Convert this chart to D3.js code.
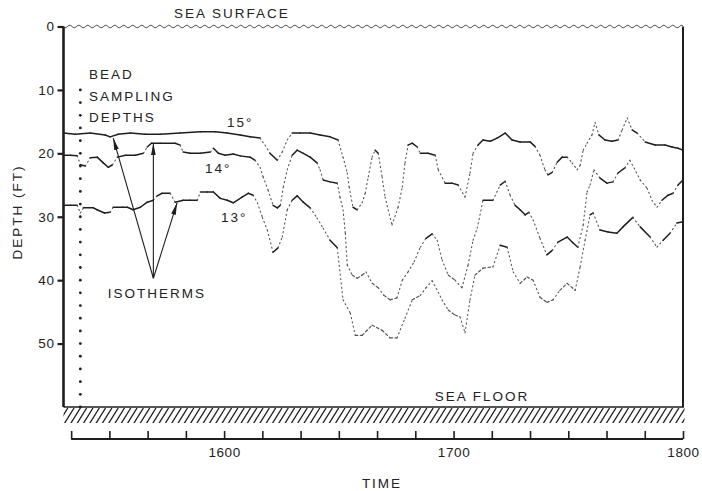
<!DOCTYPE html>
<html>
<head>
<meta charset="UTF-8">
<title>Isotherm depths vs time</title>
<style>
body { margin:0; background:#fff; }
svg { display:block; }
text { font-family: "Liberation Sans", Arial, sans-serif; fill:#222; }
.lbl { font-size:13.5px; letter-spacing:2px; }
.tick text { font-size:13.5px; letter-spacing:0.6px; fill:#222; }
</style>
</head>
<body>
<svg width="702" height="491"></svg>
<script src="https://cdn.jsdelivr.net/npm/d3@7"></script>
<script>
// time = minutes after 1500, depth in feet
const time15 = [18.0,21.1,25.0,28.9,30.2,32.3,35.5,39.4,43.3,48.5,53.8,57.7,60.8,64.2,66.8,69.4,70.7,72.0,73.9,75.2,76.5,77.8,79.9,82.5,85.1,87.7,89.8,91.1,92.2,92.7,93.7,94.8,96.1,96.9,97.7,98.7,99.5,100.3,101.3,102.1,102.9,103.9,105.5,106.6,107.3,108.1,109.2,110.5,111.3,113.3,115.2,116.0,117.8,119.6,121.2,123.0,124.3,125.1,126.4,127.7,129.6,131.4,133.5,135.3,137.4,140.0,141.3,142.6,143.9,144.7,145.8,147.1,148.4,149.7,151.0,152.3,153.1,153.9,154.9,156.2,157.0,158.0,159.6,161.4,163.0,164.1,165.4,166.7,168.0,170.1,172.7,175.3,177.1,178.7,180.0];
const depth15 = [16.8,17.0,16.8,17.1,17.4,17.0,16.8,17.0,17.0,16.8,16.6,16.6,16.8,17.1,17.4,17.6,18.7,20.0,21.1,19.8,17.9,16.8,16.8,16.8,17.1,17.4,17.9,20.6,23.1,25.3,28.5,28.9,27.8,26.3,23.7,20.6,19.5,20.0,23.7,26.9,28.9,31.3,28.5,25.3,21.5,18.7,18.4,19.0,20.0,20.0,20.3,22.6,24.7,24.7,25.0,26.9,23.1,20.0,18.7,17.9,18.1,17.6,16.8,17.9,18.2,18.2,18.9,20.3,22.6,23.4,23.0,21.4,20.6,20.6,21.5,22.6,21.9,19.5,18.4,17.1,15.1,17.1,17.9,18.1,17.9,16.3,14.4,16.3,16.8,18.2,18.7,18.7,19.0,19.2,19.5];

const time14 = [18.0,19.8,21.6,22.4,23.7,25.0,26.8,28.4,29.7,30.8,32.1,34.2,36.8,38.9,39.9,41.0,43.3,47.2,48.5,49.3,51.1,53.8,56.4,57.2,58.5,60.3,62.4,64.2,66.8,68.1,69.4,70.2,71.5,72.8,73.9,74.7,75.5,76.5,77.8,79.1,80.7,82.5,84.3,85.1,85.9,87.7,89.6,90.3,91.1,91.7,92.2,93.5,94.8,96.1,97.1,98.7,100.3,101.8,103.4,105.2,106.6,108.1,109.7,111.3,112.8,114.4,115.7,117.0,118.6,120.4,122.2,123.8,125.1,126.2,127.7,130.3,132.2,133.5,134.8,136.1,137.4,138.7,139.7,140.8,142.6,144.4,145.8,147.3,149.7,151.2,152.5,153.9,154.9,155.7,156.7,158.3,160.1,161.7,163.0,164.8,166.1,167.2,168.8,170.6,171.9,173.2,174.5,176.1,177.4,178.7,180.0];
const depth14 = [20.3,20.3,20.4,21.8,22.0,20.7,20.6,21.5,22.2,21.8,20.6,20.3,20.3,20.0,19.0,18.4,18.4,18.4,18.7,19.8,20.0,20.0,19.8,19.2,20.0,20.3,20.1,20.4,20.6,21.1,22.2,23.7,25.8,28.2,28.6,28.2,25.3,22.6,20.3,19.5,20.0,20.6,21.5,22.6,24.2,24.5,24.7,26.9,28.9,32.6,37.6,39.2,39.7,39.2,38.7,40.5,41.2,42.4,43.1,42.8,40.0,38.7,37.1,34.8,33.4,32.7,33.7,36.8,39.2,40.0,41.2,37.6,33.7,31.8,27.4,27.4,25.0,24.4,26.6,28.2,28.9,29.7,29.3,30.5,33.4,36.0,35.3,34.0,33.2,34.1,34.8,31.3,26.1,25.0,22.6,23.9,24.7,24.5,23.1,22.3,21.1,22.3,24.2,25.5,27.4,28.5,27.4,26.6,26.3,25.0,24.2];

const time13 = [18.0,19.8,21.6,22.4,23.2,25.8,26.8,28.7,30.2,31.0,33.4,34.7,36.2,38.1,39.9,41.5,42.5,43.8,45.9,47.2,49.3,51.1,53.0,53.8,55.6,57.2,59.0,60.8,62.4,64.7,66.3,67.6,68.7,70.0,71.3,72.8,74.1,75.2,76.5,77.8,79.1,80.7,82.5,84.3,85.9,87.7,89.6,91.1,93.0,94.3,96.1,98.7,101.3,103.4,105.2,107.3,109.2,111.3,112.8,114.4,116.0,117.0,118.6,120.4,121.7,123.0,124.3,125.6,127.7,130.3,132.2,134.0,135.6,137.4,139.2,140.8,142.6,144.4,146.0,147.8,149.7,151.8,153.1,154.4,155.7,156.5,158.3,160.4,162.7,164.3,166.9,168.8,171.4,173.2,174.8,176.6,178.4,180.0];
const depth13 = [28.2,28.2,28.2,29.4,28.6,28.6,28.9,29.4,29.3,28.5,28.5,28.5,28.9,28.5,27.7,27.4,26.7,26.3,26.3,27.7,27.4,27.4,27.4,26.1,26.1,26.1,27.1,27.4,27.8,26.9,26.3,26.6,27.8,30.1,32.1,35.6,34.9,33.2,28.9,27.4,26.7,27.7,28.6,30.2,31.8,33.7,34.9,43.1,45.2,48.7,48.7,47.1,47.9,49.1,49.1,46.0,43.1,42.4,41.2,40.1,41.9,43.1,44.7,45.5,45.8,48.3,43.1,39.2,38.1,37.9,34.5,34.8,38.7,40.5,39.5,40.0,42.7,43.5,43.1,41.6,40.5,41.6,37.9,33.7,29.7,29.4,32.1,32.4,32.6,31.6,30.1,31.6,33.2,34.8,33.7,32.6,31.0,30.8];

const beadDepths = [10,12,14,16,18,20,22,24,26,28,30,32,34,36,38,40,42,44,46,48,50,52,54,56,58,60];
const beadTime = 22.4;
const depthTicks = [0,10,20,30,40,50];
const timeTicks = [20,30,40,50,60,70,80,90,100,110,120,130,140,150,160,170,180];
const timeLabels = {60:"1600", 120:"1700", 180:"1800"};

const svg = d3.select('svg');
const x = d3.scaleLinear().domain([18,180]).range([63.5,683]);
const y = d3.scaleLinear().domain([0,60]).range([26.5,407]);
const ink = '#1e1e1e';

// sea surface (wavy line)
const wave = d3.range(x(18), x(180)+0.5, 0.5).map(px => [px, y(0) + 1.2*Math.sin(px*2*Math.PI/9)]);
svg.append('path').attr('d', d3.line()(wave)).attr('fill','none').attr('stroke',ink).attr('stroke-width',0.9);

// frame: left axis, right edge, sea floor
svg.append('line').attr('x1',x(18)).attr('x2',x(18)).attr('y1',y(0)).attr('y2',y(60)).attr('stroke',ink).attr('stroke-width',2.6);
svg.append('line').attr('x1',x(180)).attr('x2',x(180)).attr('y1',y(0)).attr('y2',y(60)).attr('stroke',ink).attr('stroke-width',2);
svg.append('line').attr('x1',x(18)).attr('x2',x(180)+1).attr('y1',y(60)).attr('y2',y(60)).attr('stroke',ink).attr('stroke-width',1.6);

// hatched sea floor
svg.append('clipPath').attr('id','floorclip').append('rect')
  .attr('x',x(18)).attr('y',y(60)+1).attr('width',x(180)-x(18)+1.5).attr('height',15);
const hatch = svg.append('g').attr('clip-path','url(#floorclip)');
for (let hx = x(18)-12; hx < x(180)+12; hx += 6.3) {
  hatch.append('line').attr('x1',hx).attr('y1',y(60)+17).attr('x2',hx+10).attr('y2',y(60)+1)
    .attr('stroke',ink).attr('stroke-width',1.3);
}

// depth axis
const yAxis = svg.append('g').attr('transform',`translate(${x(18)},0)`)
  .call(d3.axisLeft(y).tickValues(depthTicks).tickSize(6).tickPadding(3));
yAxis.select('.domain').remove();
yAxis.selectAll('.tick line').attr('stroke',ink).attr('stroke-width',2.2);

// time axis
const tAxisY = 439;
svg.append('line').attr('x1',x(20)).attr('x2',x(180)).attr('y1',tAxisY).attr('y2',tAxisY).attr('stroke',ink).attr('stroke-width',1.8);
const xAxis = svg.append('g').attr('transform',`translate(0,${tAxisY})`)
  .call(d3.axisBottom(x).tickValues(timeTicks).tickSize(-8).tickPadding(8).tickFormat(v => timeLabels[v] || ''));
xAxis.select('.domain').remove();
xAxis.selectAll('.tick line').attr('stroke',ink).attr('stroke-width',1.6);

// bead sampling depths
svg.append('g').selectAll('circle').data(beadDepths).join('circle')
  .attr('cx',x(beadTime)).attr('cy',d => y(d)).attr('r',1.4).attr('fill',ink);

// isotherms: solid where gently sloped, dotted where steep
function drawIso(ts, ds) {
  const pts = d3.zip(ts, ds).map(([t,d]) => [x(t), y(d)]);
  const g = svg.append('g');
  for (let i = 0; i < pts.length-1; i++) {
    const [x1,y1] = pts[i], [x2,y2] = pts[i+1];
    const steep = Math.abs(y2-y1) / Math.max(0.1, Math.abs(x2-x1)) > 1.1;
    const deep = (ds[i] + ds[i+1]) / 2 > 36;
    g.append('line').attr('x1',x1).attr('y1',y1).attr('x2',x2).attr('y2',y2)
      .attr('stroke', steep || deep ? '#555' : ink)
      .attr('stroke-width', steep ? 1.1 : (deep ? 1.2 : 1.5))
      .attr('stroke-dasharray', steep ? '1.2,3.2' : (deep ? '2.5,2.5' : null))
      .attr('stroke-linecap','round');
  }
}
drawIso(time15, depth15);
drawIso(time14, depth14);
drawIso(time13, depth13);

// arrows to the isotherms
svg.append('defs').append('marker').attr('id','head')
  .attr('viewBox','0 -3 12 6').attr('refX',12).attr('refY',0)
  .attr('markerWidth',12).attr('markerHeight',6).attr('markerUnits','userSpaceOnUse')
  .attr('orient','auto').append('path').attr('d','M0,-2.4L12,0L0,2.4Z').attr('fill',ink);
const apex = [41.5, 39.7];
const targets = [[31.0, 17.6], [41.5, 18.4], [47.7, 27.8]];
svg.append('g').selectAll('line').data(targets).join('line')
  .attr('x1',x(apex[0])).attr('y1',y(apex[1]))
  .attr('x2',d => x(d[0])).attr('y2',d => y(d[1]))
  .attr('stroke',ink).attr('stroke-width',1.1).attr('marker-end','url(#head)');

// labels
function label(txt, px, py, anchor) {
  return svg.append('text').attr('class','lbl').attr('x',px).attr('y',py)
    .attr('text-anchor',anchor || 'start').text(txt);
}
label('SEA SURFACE', 232, 18, 'middle');
label('SEA FLOOR', 482, 401, 'middle');
label('TIME', 382, 488, 'middle');
label('BEAD', 89, 79);
label('SAMPLING', 89, 101);
label('DEPTHS', 89, 122);
label('ISOTHERMS', 157, 298, 'middle');
label('15°', 227, 127);
label('14°', 205, 173);
label('13°', 221, 222);
svg.append('text').attr('class','lbl').attr('text-anchor','middle')
  .attr('transform','translate(22,212) rotate(-90)').text('DEPTH (FT)');
</script>
</body>
</html>
